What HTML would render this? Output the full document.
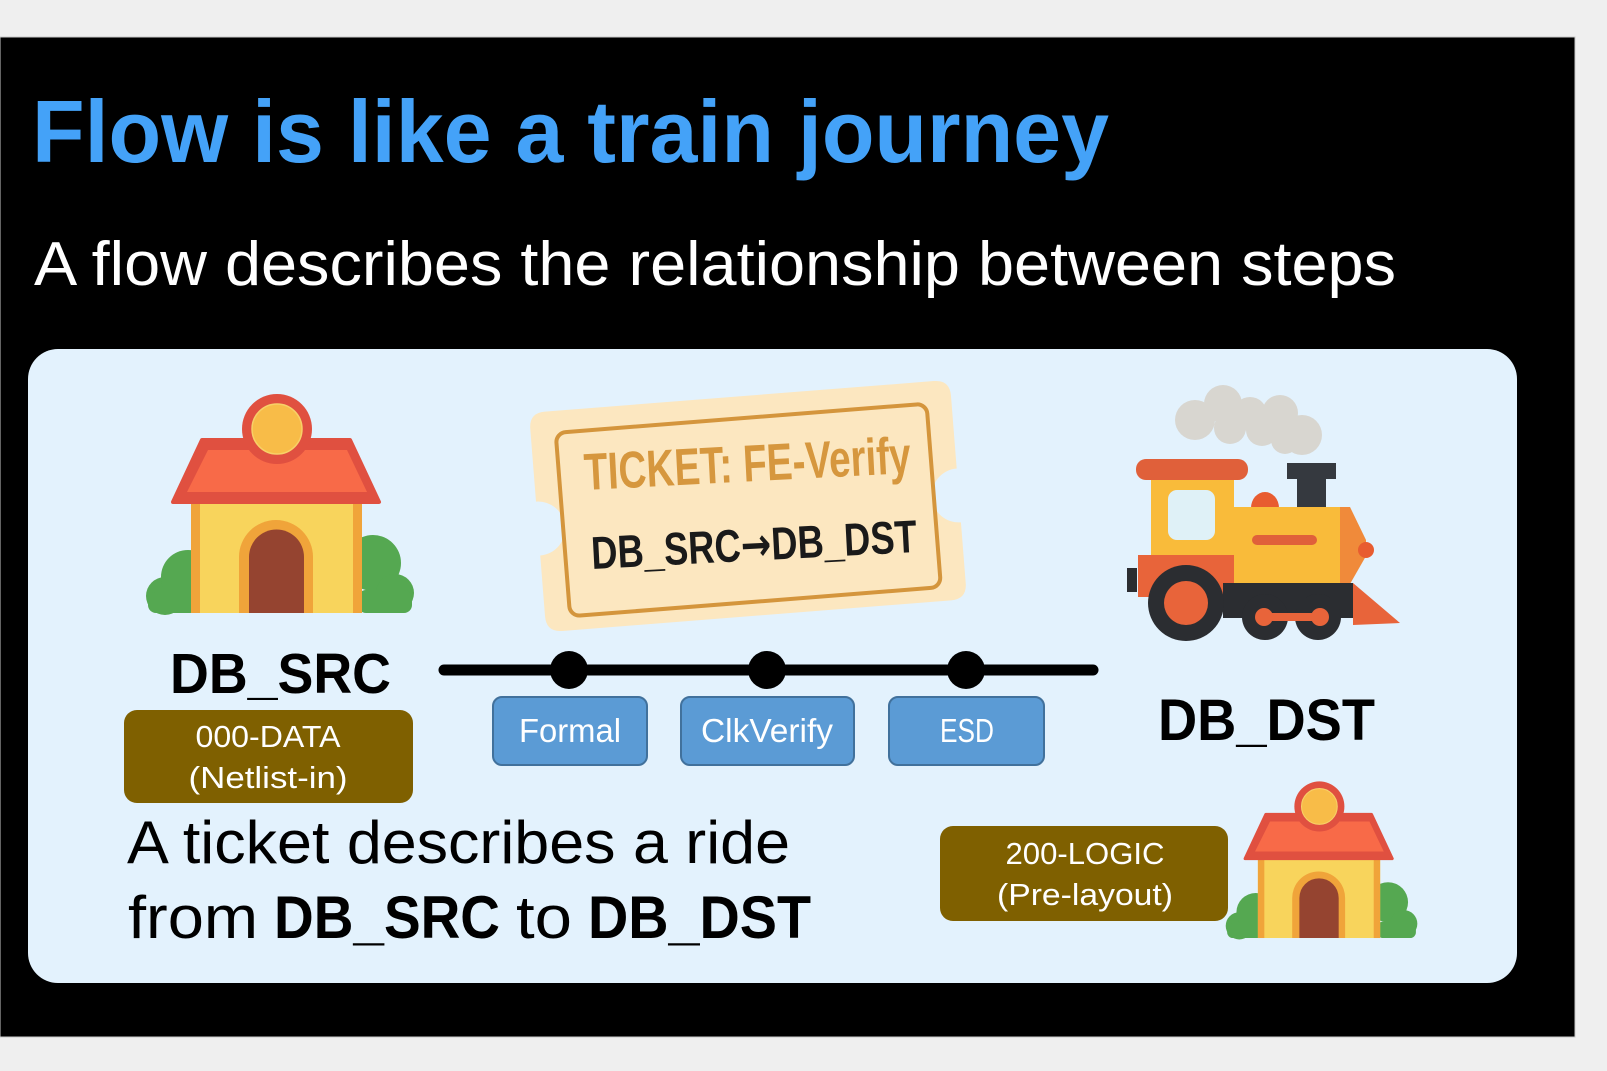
<!DOCTYPE html>
<html><head><meta charset="utf-8"><style>
html,body{margin:0;padding:0;background:#efefef;}
svg{display:block;}
text{font-family:"Liberation Sans","DejaVu Sans",sans-serif;}
</style></head><body>
<svg width="1607" height="1071" viewBox="0 0 1607 1071" xmlns="http://www.w3.org/2000/svg">
<defs>
<g id="house">
  <g fill="#55a851">
    <circle cx="165" cy="596" r="19"/>
    <circle cx="188" cy="577" r="27"/>
    <rect x="148" y="592" width="50" height="21" rx="8"/>
    <circle cx="373" cy="563" r="28"/>
    <circle cx="395" cy="593" r="19"/>
    <rect x="358" y="590" width="54" height="23" rx="8"/>
  </g>
  <rect x="191" y="500" width="171" height="113" fill="#f8d45c"/>
  <rect x="191" y="500" width="9" height="113" fill="#f0a43a"/>
  <rect x="353" y="500" width="9" height="113" fill="#f0a43a"/>
  <path d="M239,613 V557 a37,37 0 0 1 74,0 V613 Z" fill="#f0a43a"/>
  <path d="M249,613 V557 a27.5,27.5 0 0 1 55,0 V613 Z" fill="#954430"/>
  <polygon points="202,440 350,440 379,502 173,502" fill="#e05040" stroke="#e05040" stroke-width="4" stroke-linejoin="round"/>
  <polygon points="208,450 347,450 367,492 187,492" fill="#f86a48"/>
  <circle cx="277" cy="429" r="35" fill="#e05040"/>
  <circle cx="277" cy="429" r="25" fill="#f8bc48" stroke="#f7d068" stroke-width="1.5"/>
</g>
</defs>

<rect x="0" y="37" width="1575" height="1000" fill="#000" stroke="#c8c8c8" stroke-width="1"/>

<text x="32" y="162" font-size="88" font-weight="bold" fill="#44a2f8" textLength="1077" lengthAdjust="spacingAndGlyphs">Flow is like a train journey</text>
<text x="34" y="285" font-size="62" fill="#ffffff" textLength="1362" lengthAdjust="spacingAndGlyphs">A flow describes the relationship between steps</text>

<rect x="28" y="349" width="1489" height="634" rx="30" fill="#e3f2fd"/>

<use href="#house"/>

<g transform="translate(1225 780) scale(0.715) translate(-145 -392)">
  <use href="#house"/>
</g>

<g transform="rotate(-4.5 748 506)">
  <path d="M553,396 H943 Q959,396 959,412 V485 A27,27 0 0 0 959,539 V600 Q959,616 943,616 H553 Q537,616 537,600 V539 A27,27 0 0 0 537,485 V412 Q537,396 553,396 Z" fill="#fce7c0"/>
  <rect x="562" y="418" width="372" height="184" rx="10" fill="none" stroke="#d4953c" stroke-width="4"/>
</g>
<text x="585" y="490" font-size="52" font-weight="bold" fill="#d6973e" textLength="327" lengthAdjust="spacingAndGlyphs" transform="rotate(-3 585 490)">TICKET: FE-Verify</text>
<text x="592" y="569" font-size="46" font-weight="bold" fill="#1a1a1a" textLength="326" lengthAdjust="spacingAndGlyphs" transform="rotate(-3 592 569)">DB_SRC<tspan font-family="DejaVu Sans, sans-serif">→</tspan>DB_DST</text>

<g>
  <g fill="#d8d6d0">
    <circle cx="1195" cy="420" r="20"/>
    <circle cx="1223" cy="404" r="19"/>
    <circle cx="1250" cy="414" r="17"/>
    <circle cx="1280" cy="413" r="18"/>
    <circle cx="1302" cy="435" r="20"/>
    <circle cx="1230" cy="428" r="16"/>
    <circle cx="1262" cy="430" r="16"/>
    <circle cx="1285" cy="440" r="14"/>
  </g>
  <rect x="1297" y="475" width="29" height="34" fill="#35393f"/>
  <rect x="1287" y="463" width="49" height="16" fill="#35393f"/>
  <path d="M1251,508 a14,16 0 0 1 28,0 Z" fill="#e85c30"/>
  <rect x="1151" y="478" width="83" height="80" fill="#f9bb3a"/>
  <rect x="1136" y="459" width="112" height="21" rx="10" fill="#e0603a"/>
  <rect x="1168" y="490" width="47" height="50" rx="9" fill="#dff1f7"/>
  <rect x="1234" y="507" width="106" height="77" fill="#f9bb3a"/>
  <polygon points="1340,507 1350,507 1366,540 1366,556 1350,584 1340,584" fill="#f08a3a"/>
  <circle cx="1366" cy="550" r="8" fill="#e85c30"/>
  <rect x="1252" y="535" width="65" height="10" rx="5" fill="#e0603a"/>
  <rect x="1138" y="555" width="96" height="42" fill="#e8643a"/>
  <rect x="1127" y="568" width="10" height="24" fill="#2b2d31"/>
  <rect x="1223" y="583" width="130" height="35" fill="#2b2d31"/>
  <polygon points="1353,583 1400,623 1353,625" fill="#e8643a"/>
  <circle cx="1186" cy="603" r="38" fill="#2b2d31"/>
  <circle cx="1186" cy="603" r="22" fill="#e8643a"/>
  <circle cx="1265" cy="617" r="23" fill="#2b2d31"/>
  <circle cx="1318" cy="617" r="23" fill="#2b2d31"/>
  <rect x="1257" y="613" width="71" height="8" fill="#e8643a"/>
  <circle cx="1264" cy="617" r="9" fill="#e8643a"/>
  <circle cx="1320" cy="617" r="9" fill="#e8643a"/>
</g>

<text x="170" y="693" font-size="57" font-weight="bold" fill="#000" textLength="221" lengthAdjust="spacingAndGlyphs">DB_SRC</text>
<text x="1158" y="740" font-size="58" font-weight="bold" fill="#000" textLength="217" lengthAdjust="spacingAndGlyphs">DB_DST</text>

<rect x="124" y="710" width="289" height="93" rx="13" fill="#7f6000"/>
<text x="268" y="747" font-size="31" fill="#fff" text-anchor="middle" textLength="145" lengthAdjust="spacingAndGlyphs">000-DATA</text>
<text x="268" y="788" font-size="31" fill="#fff" text-anchor="middle" textLength="159" lengthAdjust="spacingAndGlyphs">(Netlist-in)</text>

<rect x="940" y="826" width="288" height="95" rx="13" fill="#7f6000"/>
<text x="1085" y="864" font-size="31" fill="#fff" text-anchor="middle" textLength="159" lengthAdjust="spacingAndGlyphs">200-LOGIC</text>
<text x="1085" y="905" font-size="31" fill="#fff" text-anchor="middle" textLength="176" lengthAdjust="spacingAndGlyphs">(Pre-layout)</text>

<line x1="444" y1="670" x2="1093" y2="670" stroke="#000" stroke-width="11" stroke-linecap="round"/>
<circle cx="569" cy="670" r="19" fill="#000"/>
<circle cx="767" cy="670" r="19" fill="#000"/>
<circle cx="966" cy="670" r="19" fill="#000"/>

<g stroke="#41719c" stroke-width="2" fill="#5b9bd5">
  <rect x="493" y="697" width="154" height="68" rx="9"/>
  <rect x="681" y="697" width="173" height="68" rx="9"/>
  <rect x="889" y="697" width="155" height="68" rx="9"/>
</g>
<text x="570" y="742" font-size="33" fill="#fff" text-anchor="middle" textLength="102" lengthAdjust="spacingAndGlyphs">Formal</text>
<text x="767" y="742" font-size="33" fill="#fff" text-anchor="middle" textLength="132" lengthAdjust="spacingAndGlyphs">ClkVerify</text>
<text x="967" y="742" font-size="33" fill="#fff" text-anchor="middle" textLength="54" lengthAdjust="spacingAndGlyphs">ESD</text>

<text x="127" y="863" font-size="60" fill="#000" textLength="663" lengthAdjust="spacingAndGlyphs">A ticket describes a ride</text>
<text x="128" y="938" font-size="60" fill="#000" textLength="130" lengthAdjust="spacingAndGlyphs">from</text>
<text x="274" y="938" font-size="60" font-weight="bold" fill="#000" textLength="226" lengthAdjust="spacingAndGlyphs">DB_SRC</text>
<text x="516" y="938" font-size="60" fill="#000" textLength="56" lengthAdjust="spacingAndGlyphs">to</text>
<text x="588" y="938" font-size="60" font-weight="bold" fill="#000" textLength="223" lengthAdjust="spacingAndGlyphs">DB_DST</text>
</svg>
</body></html>
